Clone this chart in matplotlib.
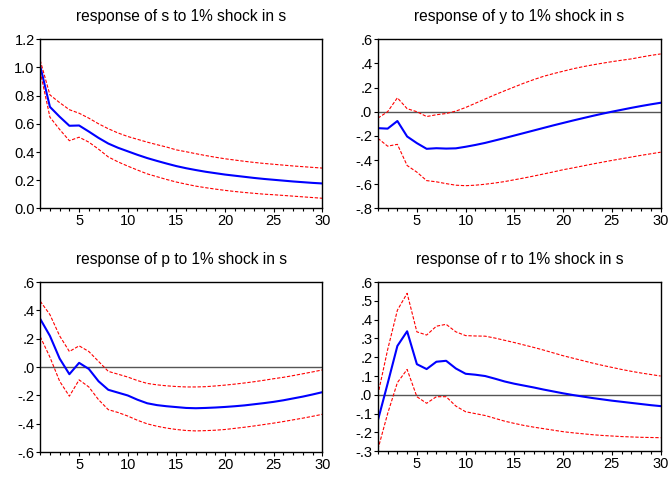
import numpy as np
import matplotlib.pyplot as plt
from matplotlib.ticker import MultipleLocator, FuncFormatter

plt.rcParams['font.family'] = ['Liberation Sans', 'DejaVu Sans']

periods = np.arange(1, 31)

# impulse responses to a 1% shock in s: point estimate and +/- 2 s.e. bands
s_resp = [1.01, 0.72, 0.65, 0.586, 0.588, 0.545, 0.50, 0.46, 0.43, 0.405,
          0.38, 0.357, 0.337, 0.318, 0.30, 0.285, 0.272, 0.26, 0.25, 0.24,
          0.232, 0.224, 0.216, 0.209, 0.203, 0.197, 0.191, 0.186, 0.181, 0.177]
s_upper = [1.05, 0.805, 0.75, 0.70, 0.675, 0.64, 0.60, 0.565, 0.535, 0.51,
           0.49, 0.47, 0.452, 0.435, 0.415, 0.402, 0.388, 0.375, 0.363, 0.352,
           0.343, 0.334, 0.326, 0.319, 0.313, 0.307, 0.301, 0.296, 0.291, 0.286]
s_lower = [0.97, 0.647, 0.56, 0.48, 0.505, 0.47, 0.42, 0.365, 0.33, 0.30,
           0.272, 0.245, 0.225, 0.205, 0.187, 0.172, 0.158, 0.147, 0.137, 0.128,
           0.12, 0.113, 0.107, 0.101, 0.097, 0.092, 0.087, 0.082, 0.077, 0.072]

y_resp = [-0.136, -0.14, -0.077, -0.205, -0.26, -0.307, -0.302, -0.305, -0.303, -0.29,
          -0.275, -0.258, -0.238, -0.218, -0.197, -0.176, -0.155, -0.134, -0.113, -0.093,
          -0.073, -0.054, -0.035, -0.017, 0.0, 0.016, 0.032, 0.047, 0.061, 0.074]
y_upper = [-0.053, 0.0, 0.115, 0.025, 0.0, -0.04, -0.025, -0.015, 0.005, 0.035,
           0.07, 0.105, 0.14, 0.173, 0.205, 0.237, 0.266, 0.293, 0.315, 0.335,
           0.355, 0.372, 0.387, 0.401, 0.414, 0.426, 0.437, 0.452, 0.466, 0.478]
y_lower = [-0.22, -0.285, -0.27, -0.445, -0.50, -0.57, -0.58, -0.595, -0.608, -0.612,
           -0.608, -0.60, -0.59, -0.578, -0.563, -0.548, -0.532, -0.515, -0.498, -0.48,
           -0.465, -0.449, -0.433, -0.418, -0.403, -0.389, -0.375, -0.361, -0.348, -0.335]

p_resp = [0.34, 0.22, 0.06, -0.05, 0.03, -0.013, -0.10, -0.16, -0.18, -0.20,
          -0.23, -0.255, -0.268, -0.276, -0.282, -0.288, -0.29, -0.288, -0.285, -0.281,
          -0.276, -0.27, -0.262, -0.254, -0.245, -0.234, -0.221, -0.208, -0.193, -0.177]
p_upper = [0.465, 0.37, 0.22, 0.11, 0.15, 0.11, 0.04, -0.03, -0.05, -0.07,
           -0.095, -0.115, -0.125, -0.132, -0.137, -0.14, -0.14, -0.138, -0.133, -0.127,
           -0.12, -0.112, -0.103, -0.093, -0.082, -0.072, -0.06, -0.047, -0.034, -0.02]
p_lower = [0.215, 0.07, -0.10, -0.205, -0.09, -0.14, -0.23, -0.30, -0.32, -0.345,
           -0.375, -0.40, -0.417, -0.43, -0.44, -0.447, -0.45, -0.448, -0.445, -0.44,
           -0.432, -0.424, -0.415, -0.405, -0.395, -0.384, -0.372, -0.36, -0.347, -0.333]

r_resp = [-0.136, 0.06, 0.26, 0.338, 0.163, 0.137, 0.176, 0.181, 0.14, 0.112,
          0.107, 0.10, 0.086, 0.071, 0.059, 0.049, 0.039, 0.028, 0.018, 0.008,
          -0.001, -0.009, -0.017, -0.024, -0.031, -0.037, -0.043, -0.049, -0.055, -0.06]
r_upper = [0.0, 0.24, 0.45, 0.54, 0.335, 0.318, 0.365, 0.375, 0.335, 0.315,
           0.313, 0.312, 0.302, 0.29, 0.278, 0.265, 0.252, 0.238, 0.223, 0.208,
           0.195, 0.182, 0.169, 0.157, 0.146, 0.135, 0.125, 0.116, 0.108, 0.10]
r_lower = [-0.29, -0.10, 0.065, 0.135, -0.01, -0.045, -0.01, -0.01, -0.06, -0.09,
           -0.1, -0.11, -0.125, -0.14, -0.152, -0.163, -0.172, -0.18, -0.188, -0.196,
           -0.202, -0.207, -0.212, -0.216, -0.219, -0.222, -0.224, -0.226, -0.227, -0.228]

titles = ['response of s to 1% shock in s', 'response of y to 1% shock in s',
          'response of p to 1% shock in s', 'response of r to 1% shock in s']
responses = [(s_resp, s_upper, s_lower), (y_resp, y_upper, y_lower),
             (p_resp, p_upper, p_lower), (r_resp, r_upper, r_lower)]
y_limits = [(0.0, 1.2), (-0.8, 0.6), (-0.6, 0.6), (-0.3, 0.6)]
y_steps = [0.2, 0.2, 0.2, 0.1]
# axes boxes in figure fractions: left, bottom, width, height
boxes = [(0.060, 0.564, 0.421, 0.354), (0.564, 0.564, 0.422, 0.354),
         (0.060, 0.054, 0.421, 0.356), (0.564, 0.056, 0.422, 0.354)]


def eviews_fmt(v, pos):
    # EViews drops the leading zero on axes that cross zero
    s = f'{v:.1f}'
    return s.replace('0.', '.', 1) if s.startswith(('0.', '-0.')) else s


fig = plt.figure(figsize=(6.7, 4.78), dpi=100)
for i, (title, (resp, up, lo)) in enumerate(zip(titles, responses)):
    ax = fig.add_axes(boxes[i])
    ax.plot(periods, resp, color='#0000ff', lw=1.5)
    ax.plot(periods, up, color='#ff0000', lw=0.8, ls=(0, (3, 1.5)))
    ax.plot(periods, lo, color='#ff0000', lw=0.8, ls=(0, (3, 1.5)))
    ymin, ymax = y_limits[i]
    if ymin < 0:
        ax.axhline(0, color='#555555', lw=1.0, zorder=1)
    ax.set_xlim(1, 30)
    ax.set_ylim(ymin, ymax)
    ax.xaxis.set_major_locator(MultipleLocator(5))
    ax.xaxis.set_minor_locator(MultipleLocator(1))
    ax.yaxis.set_major_locator(MultipleLocator(y_steps[i]))
    if i == 0:
        ax.yaxis.set_major_formatter(FuncFormatter(lambda v, p: f'{v:.1f}'))
    else:
        ax.yaxis.set_major_formatter(FuncFormatter(eviews_fmt))
    ax.tick_params(axis='both', which='major', direction='out', length=3,
                   width=0.8, labelsize=10.5, pad=1)
    ax.tick_params(axis='x', which='minor', direction='out', length=2, width=0.8)
    ax.tick_params(axis='y', which='minor', left=False)
    for sp in ax.spines.values():
        sp.set_linewidth(1.0)
    ax.set_title(title, fontsize=11.2, pad=13)

fig.savefig('out.png', dpi=100)
